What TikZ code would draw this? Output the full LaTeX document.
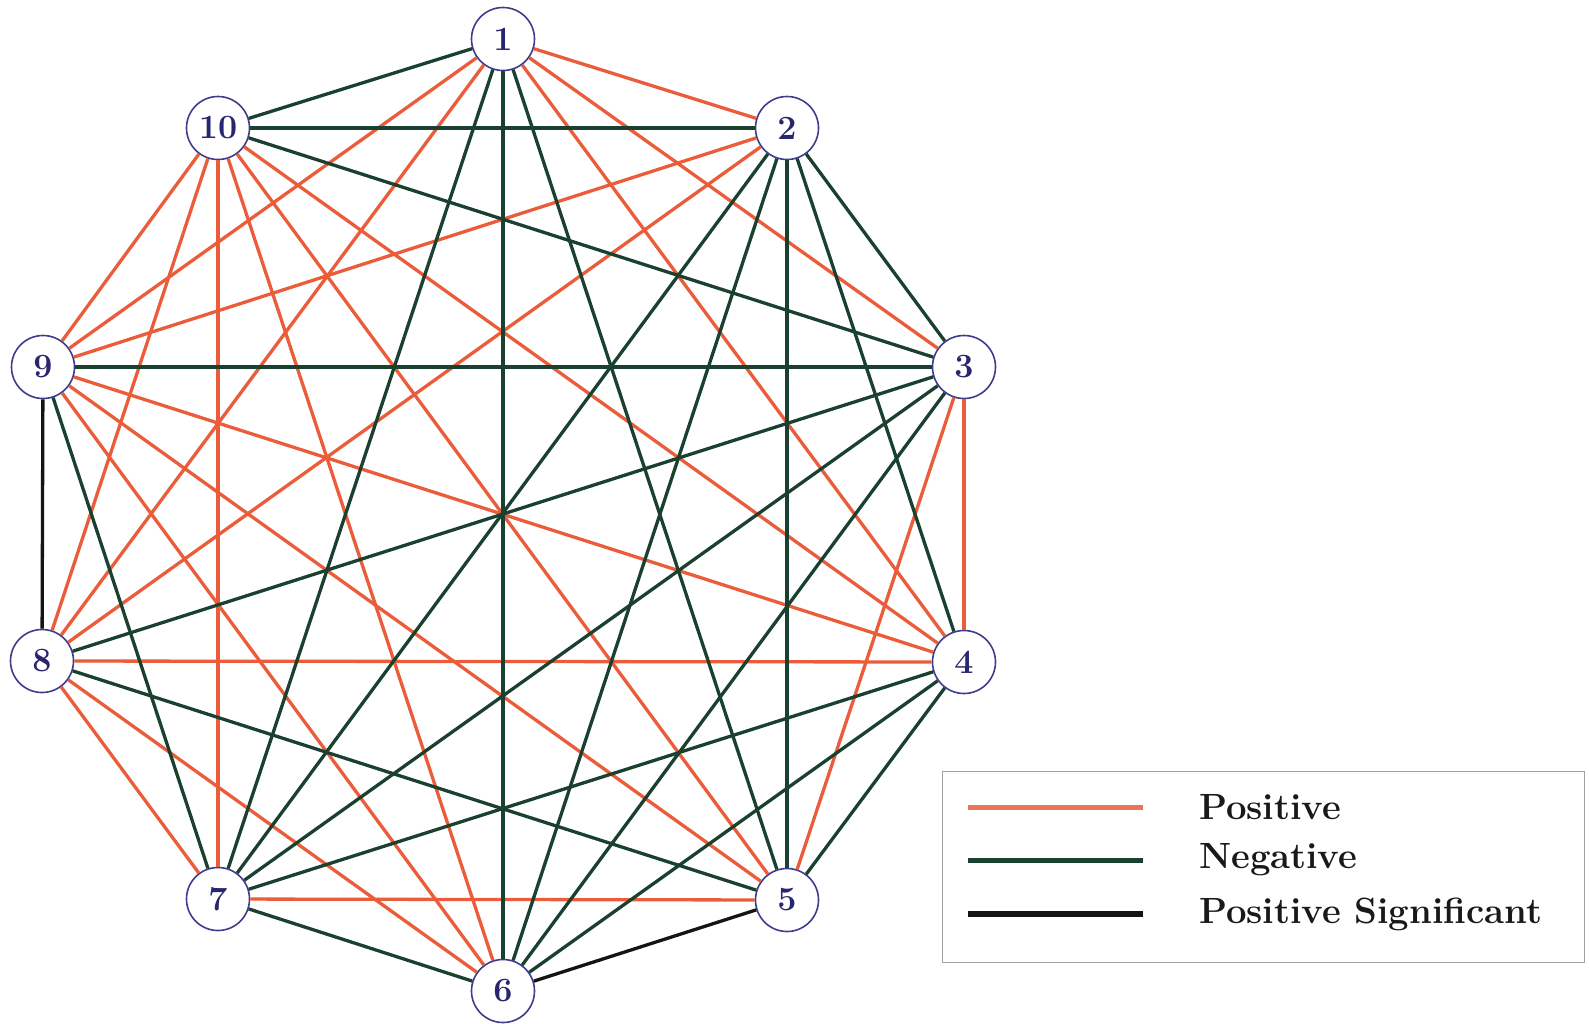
\documentclass[tikz,border=0pt]{standalone}
\usepackage{fontspec}
\definecolor{posc}{RGB}{234,92,58}
\definecolor{negc}{RGB}{26,64,48}
\definecolor{sigc}{RGB}{20,20,20}
\definecolor{nodec}{RGB}{62,60,140}
\definecolor{numc}{RGB}{40,38,110}
\definecolor{framec}{RGB}{160,160,160}
\begin{document}
\begin{tikzpicture}[x=1pt,y=-1pt,
  vert/.style={circle,draw=nodec,line width=1.6pt,fill=white,minimum size=63pt,inner sep=0pt,
    text=numc,font=\fontsize{34}{40}\selectfont\bfseries},
  posedge/.style={draw=posc,line width=3.3pt},
  negedge/.style={draw=negc,line width=3.3pt},
  sigedge/.style={draw=sigc,line width=3.3pt},
  legtext/.style={anchor=west,inner sep=0pt,font=\fontsize{36.5}{42}\selectfont\bfseries,text=black!90}]
\useasboundingbox (0,0) rectangle (1589,1023);

% vertices of the decagon
\node[vert] (n1)  at (503,39)  {1};
\node[vert] (n2)  at (787,128) {2};
\node[vert] (n3)  at (964,367) {3};
\node[vert] (n4)  at (964,662) {4};
\node[vert] (n5)  at (787,900) {5};
\node[vert] (n6)  at (503,991) {6};
\node[vert] (n7)  at (218,899) {7};
\node[vert] (n8)  at (42,661)  {8};
\node[vert] (n9)  at (43,367)  {9};
\node[vert] (n10) at (218,128) {10};

% positive correlations
\foreach \a/\b in {1/2,1/3,1/4,1/8,1/9,2/8,2/9,3/4,3/5,4/8,4/9,4/10,5/7,5/9,5/10,6/8,6/9,6/10,7/8,7/10,8/10,9/10}
  \draw[posedge] (n\a) -- (n\b);
% negative correlations
\foreach \a/\b in {1/5,1/6,1/7,1/10,2/3,2/4,2/5,2/6,2/7,2/10,3/6,3/7,3/8,3/9,3/10,4/5,4/6,4/7,5/8,6/7,7/9}
  \draw[negedge] (n\a) -- (n\b);
% significant positive correlations
\foreach \a/\b in {5/6,8/9}
  \draw[sigedge] (n\a) -- (n\b);

% legend
\node[draw=framec,line width=1.2pt,minimum width=642pt,minimum height=191pt,inner sep=0pt,anchor=north west] (leg) at (942,771) {};
\coordinate (pa) at (968,807);  \coordinate (pb) at (1143,807);
\coordinate (na) at (968,860);  \coordinate (nb) at (1143,860);
\coordinate (sa) at (968,914);  \coordinate (sb) at (1143,914);
\draw[draw=posc!85,line width=5pt] (pa) -- (pb);
\draw[draw=negc,line width=5pt] (na) -- (nb);
\draw[draw=sigc,line width=5.5pt] (sa) -- (sb);
\node[legtext] (lp) at (1199,807) {Positive};
\node[legtext] (ln) at (1199,860) {Negative};
\node[legtext] (ls) at (1199,914) {Positive Significant};
\end{tikzpicture}
\end{document}
